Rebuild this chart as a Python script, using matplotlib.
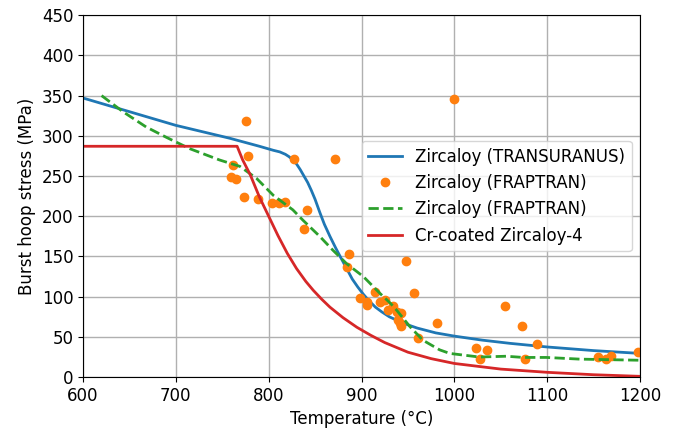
import matplotlib
matplotlib.use("Agg")
import matplotlib.pyplot as plt

# Zircaloy (TRANSURANUS) curve
tu_T = [600, 650, 700, 758, 790, 805, 812, 818, 822, 826, 830, 834, 838, 842, 846, 850,
        855, 860, 866, 872, 877, 884, 890, 896, 902, 908, 915, 922, 930, 945, 960, 980,
        1000, 1030, 1060, 1100, 1150, 1200]
tu_S = [347, 330, 313, 297, 287, 282, 280, 277, 274, 270, 265, 258, 250, 242, 232, 221,
        205, 190, 175, 161, 150, 135, 122, 112, 103, 95, 87, 81, 75, 67, 61, 55,
        51, 46, 42, 37.5, 33, 29.5]

# Zircaloy (FRAPTRAN) data points
fr_T = [1000, 776, 778, 762, 759, 765, 773, 788, 804, 811, 818, 827, 871, 841, 838,
        886, 884, 948, 957, 898, 906, 906, 914, 920, 925, 929, 934, 938, 943, 939,
        941, 943, 961, 981, 1023, 1028, 1035, 1055, 1073, 1076, 1089, 1155, 1163,
        1169, 1198]
fr_S = [346, 318, 275, 264, 249, 246, 224, 221, 216, 217, 218, 271, 271, 208, 184,
        153, 137, 145, 104, 99, 94, 90, 106, 94, 96, 84, 88, 81, 80, 71,
        67, 63, 49, 67, 36, 23, 34, 88, 63, 23, 41, 25, 22,
        26, 31]

# Zircaloy (FRAPTRAN) curve
frc_T = [620, 643, 668, 690, 715, 747, 769, 787, 805, 826, 837, 855, 869, 884, 902, 920,
         931, 938, 952, 966, 984, 995, 1027, 1056, 1074, 1099, 1135, 1200]
frc_S = [350, 330, 311, 298, 284, 270, 262, 247, 226, 208, 195, 175, 158, 141, 125, 104,
         92, 83, 63, 46, 34, 29.5, 25, 26, 24.5, 24.5, 22.4, 21]

# Cr-coated Zircaloy-4 curve
cr_T = [600, 766, 772, 780, 790, 800, 810, 820, 830, 840, 848, 857, 866, 880, 895, 910,
        925, 950, 975, 1000, 1050, 1100, 1150, 1200]
cr_S = [287, 287, 270, 252, 224, 200, 176, 154, 135, 119, 108, 97, 87, 74, 62, 52,
        43, 31, 23, 17, 10, 6, 3, 1]

fig = plt.figure(figsize=(6.77, 4.33), dpi=100)
ax = fig.add_axes([0.1226, 0.129, 0.8228, 0.836])

ax.plot(tu_T, tu_S, color="tab:blue", lw=2, label="Zircaloy (TRANSURANUS)")
ax.plot(fr_T, fr_S, "o", color="tab:orange", ms=6, label="Zircaloy (FRAPTRAN)")
ax.plot(frc_T, frc_S, "--", color="tab:green", lw=2, label="Zircaloy (FRAPTRAN)")
ax.plot(cr_T, cr_S, color="tab:red", lw=2, label="Cr-coated Zircaloy-4")

ax.set_xlim(600, 1200)
ax.set_ylim(0, 450)
ax.set_xticks([600, 700, 800, 900, 1000, 1100, 1200])
ax.set_yticks(range(0, 451, 50))
ax.grid(True, color="#b0b0b0", lw=1)
ax.tick_params(labelsize=12)
ax.set_xlabel("Temperature (\u00b0C)", fontsize=12)
ax.set_ylabel("Burst hoop stress (MPa)", fontsize=12)
ax.legend(loc="center right", fontsize=12)

fig.savefig("out.png", dpi=100)
